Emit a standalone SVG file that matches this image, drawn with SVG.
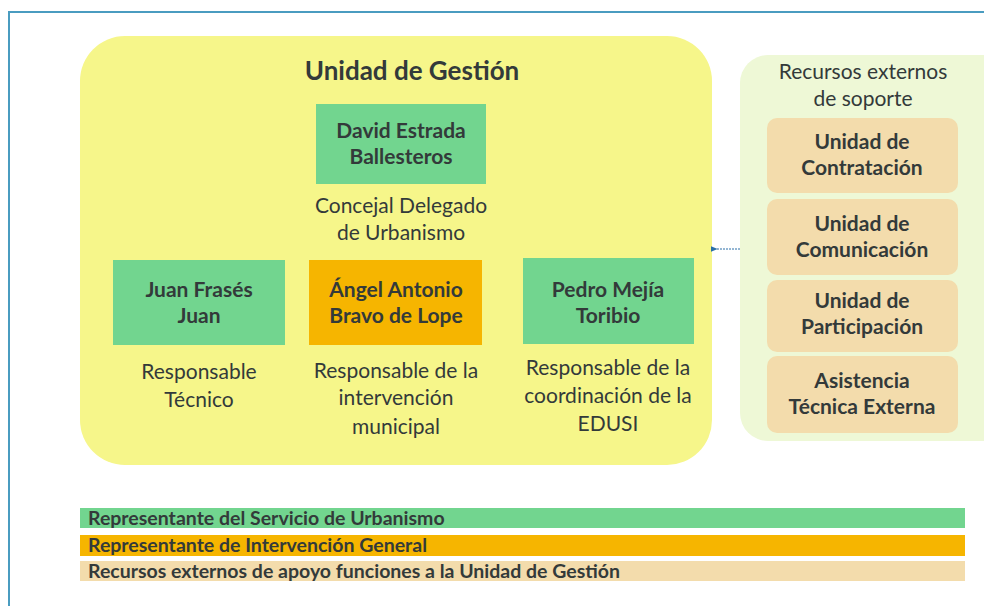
<svg xmlns="http://www.w3.org/2000/svg" width="984" height="608" viewBox="0 0 984 608">
<defs>
<style>
text{font-family:Lato,"Open Sans","Liberation Sans",sans-serif;fill:#333a3a;text-anchor:middle}
.b{font-weight:bold}
.n{font-size:21px}
.t{font-size:21px}
.lg{font-size:19.5px;font-weight:bold;text-anchor:start}
.green{fill:#72d58f}
.orange{fill:#f6b500}
.tan{fill:#f3dcac}
</style>
<marker id="ah" viewBox="0 0 10 10" refX="1" refY="5" markerWidth="7" markerHeight="7" orient="auto"><path d="M10,1 L0,5 L10,9 z" fill="#2a6fa8"/></marker>
</defs>
<rect x="0" y="0" width="984" height="608" fill="#ffffff"/>
<path d="M9,606 L9,12 L984,12" fill="none" stroke="#4a9cc0" stroke-width="2"/>

<g id="unidad-gestion">
<rect x="80" y="36" width="632" height="429" rx="45" fill="#f6f68a"/>
<text class="b" x="412" y="80" style="font-size:26px">Unidad de Gestión</text>
</g>

<g id="david">
<rect class="green" x="316" y="104" width="170" height="80"/>
<text class="b n" x="401" y="138">David Estrada</text>
<text class="b n" x="401" y="164">Ballesteros</text>
<text class="t" x="401" y="213">Concejal Delegado</text>
<text class="t" x="401" y="240">de Urbanismo</text>
</g>

<g id="juan">
<rect class="green" x="113" y="260" width="172" height="85"/>
<text class="b n" x="199" y="297">Juan Frasés</text>
<text class="b n" x="199" y="323">Juan</text>
<text class="t" x="199" y="379">Responsable</text>
<text class="t" x="199" y="407">Técnico</text>
</g>

<g id="angel">
<rect class="orange" x="309" y="260" width="173" height="85"/>
<text class="b n" x="396" y="297">Ángel Antonio</text>
<text class="b n" x="396" y="323">Bravo de Lope</text>
<text class="t" x="396" y="378">Responsable de la</text>
<text class="t" x="396" y="405">intervención</text>
<text class="t" x="396" y="434">municipal</text>
</g>

<g id="pedro">
<rect class="green" x="523" y="258" width="171" height="86"/>
<text class="b n" x="608" y="297">Pedro Mejía</text>
<text class="b n" x="608" y="323">Toribio</text>
<text class="t" x="608" y="375">Responsable de la</text>
<text class="t" x="608" y="403">coordinación de la</text>
<text class="t" x="608" y="431">EDUSI</text>
</g>

<g id="recursos-externos">
<rect x="740" y="55" width="270" height="386" rx="28" fill="#eef8d6"/>
<text class="t" x="863" y="79">Recursos externos</text>
<text class="t" x="863" y="106">de soporte</text>
</g>

<g id="contratacion">
<rect class="tan" x="767" y="118" width="191" height="75" rx="10"/>
<text class="b n" x="862" y="149">Unidad de</text>
<text class="b n" x="862" y="175">Contratación</text>
</g>
<g id="comunicacion">
<rect class="tan" x="767" y="199" width="191" height="76" rx="10"/>
<text class="b n" x="862" y="231">Unidad de</text>
<text class="b n" x="862" y="257">Comunicación</text>
</g>
<g id="participacion">
<rect class="tan" x="767" y="280" width="191" height="72" rx="10"/>
<text class="b n" x="862" y="308">Unidad de</text>
<text class="b n" x="862" y="334">Participación</text>
</g>
<g id="asistencia">
<rect class="tan" x="767" y="356" width="191" height="77" rx="10"/>
<text class="b n" x="862" y="388">Asistencia</text>
<text class="b n" x="862" y="414">Técnica Externa</text>
</g>

<g id="connectors">
<line x1="740" y1="249" x2="717" y2="249" stroke="#2a6fa8" stroke-width="1" stroke-dasharray="2,1" marker-end="url(#ah)"/>
</g>

<g id="legend">
<rect class="green" x="80" y="508" width="885" height="20"/>
<text class="lg" x="88" y="525">Representante del Servicio de Urbanismo</text>
<rect class="orange" x="80" y="535" width="885" height="21"/>
<text class="lg" x="88" y="552">Representante de Intervención General</text>
<rect class="tan" x="80" y="561" width="885" height="20"/>
<text class="lg" x="88" y="578">Recursos externos de apoyo funciones a la Unidad de Gestión</text>
</g>
</svg>
